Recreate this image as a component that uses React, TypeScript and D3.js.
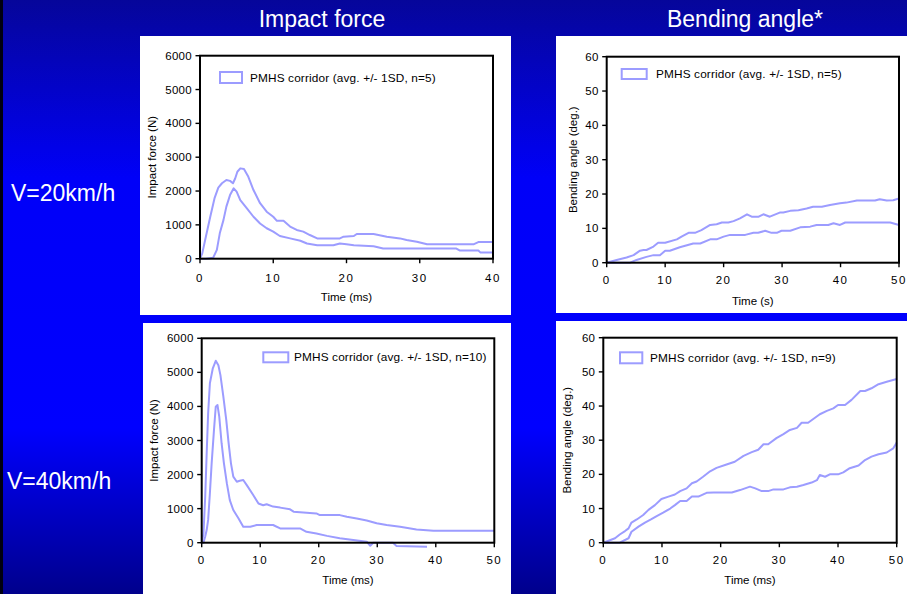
import React from 'react';
import * as d3 from 'd3';

const W = 907;
const H = 594;
const LINE = '#9c9cff';
const FONT = '"Liberation Sans", Arial, Helvetica, sans-serif';

const headers = ['Impact force', 'Bending angle*'];
const rowLabels = ['V=20km/h', 'V=40km/h'];

const forceTicks20 = [0, 10, 20, 30, 40];
const timeTicks50 = [0, 10, 20, 30, 40, 50];
const forceTicks = [0, 1000, 2000, 3000, 4000, 5000, 6000];
const angleTicks = [0, 10, 20, 30, 40, 50, 60];

const legend20Force = 'PMHS corridor (avg. +/- 1SD, n=5)';
const legend20Angle = 'PMHS corridor (avg. +/- 1SD, n=5)';
const legend40Force = 'PMHS corridor (avg. +/- 1SD, n=10)';
const legend40Angle = 'PMHS corridor (avg. +/- 1SD, n=9)';

// V=20km/h impact force (N) vs time (ms)
const force20Upper: [number, number][] = [
  [0, 0], [0.3, 150], [0.8, 650], [1.4, 1240], [2, 1800], [2.5, 2100], [3, 2230], [3.6, 2325],
  [4.1, 2300], [4.5, 2230], [4.8, 2370], [5.1, 2570], [5.5, 2670], [6, 2650], [6.6, 2420],
  [7.3, 2030], [8.2, 1640], [9.1, 1390], [10, 1240], [10.5, 1120], [11.4, 1120], [12.3, 950],
  [13.2, 850], [14.1, 800], [15, 700], [16, 600], [19.1, 600], [19.6, 650], [21, 670],
  [21.4, 730], [23.7, 730], [25.5, 650], [27.3, 600], [28.2, 550], [29.6, 500], [31, 430],
  [37.4, 430], [38, 490], [40, 490],
];
const force20Lower: [number, number][] = [
  [0, 0], [0.8, 0], [1.8, 30], [2.3, 260], [2.7, 750], [3.2, 1140], [3.6, 1540], [4.1, 1880],
  [4.6, 2080], [5, 1980], [5.5, 1730], [6.4, 1490], [7.3, 1240], [8.2, 1040], [9.1, 900],
  [10, 800], [10.9, 670], [12.3, 600], [13.7, 530], [14.6, 450], [16, 400], [18.2, 400],
  [19.1, 450], [20, 430], [21, 400], [23.7, 370], [25, 300], [35, 300], [35.5, 240], [38, 240],
  [38.3, 180], [40, 180],
];

// V=20km/h bending angle (deg.) vs time (s)
const angle20Upper: [number, number][] = [
  [0, 0], [1.7, 0.8], [3.4, 1.5], [4.6, 2.2], [5.7, 3.5], [6.3, 3.7], [6.8, 3.7], [8, 4.7],
  [8.8, 5.8], [10, 5.8], [12, 6.8], [12.8, 7.6], [14, 8.7], [15.1, 8.7], [16.2, 9.5], [17.7, 11],
  [18.8, 11.2], [19.7, 11.7], [20.8, 11.7], [21.7, 12.1], [22.8, 12.9], [24, 14.1], [24.8, 13.4],
  [26, 13.4], [26.8, 14.1], [27.9, 13.4], [29.6, 14.6], [30.2, 14.6], [31.4, 15.1], [32.8, 15.3],
  [34.2, 15.8], [35.3, 16.3], [36.8, 16.3], [38.2, 16.8], [39.9, 17.3], [41, 17.5], [42.8, 18.1],
  [45.9, 18.1], [46.7, 18.5], [47.9, 18.1], [49, 18.2], [50, 18.7],
];
const angle20Lower: [number, number][] = [
  [0, 0], [4, 0], [5.1, 0.8], [6.8, 1.7], [8, 2.2], [9.1, 2.2], [10, 3.5], [10.8, 3.5],
  [12.5, 4.5], [14.8, 5.6], [16, 5.6], [17.7, 6.8], [18.8, 6.8], [20, 7.6], [21.1, 8.1],
  [23.7, 8.1], [25.1, 8.7], [25.9, 8.7], [27.1, 9.3], [28.2, 8.7], [29.1, 8.7], [29.9, 9.3],
  [31.4, 9.3], [33.1, 10.3], [34.8, 10.5], [35.9, 11], [37.9, 11], [38.8, 11.5], [39.9, 11],
  [40.8, 11.7], [48.5, 11.7], [50, 11],
];

// V=40km/h impact force (N) vs time (ms)
const force40Upper: [number, number][] = [
  [0, 0], [0.3, 270], [0.6, 1350], [0.85, 2620], [1.1, 3800], [1.4, 4680], [1.9, 5120],
  [2.4, 5340], [2.85, 5210], [3.2, 4920], [3.7, 4290], [4.2, 3600], [4.6, 2920], [5, 2330],
  [5.4, 1940], [6, 1790], [6.5, 1820], [7.1, 1840], [7.7, 1690], [8.8, 1400], [9.7, 1150],
  [10.5, 1100], [11.1, 1130], [12.2, 1060], [13.4, 1030], [15.1, 980], [15.7, 910], [19.6, 860],
  [20.2, 810], [23.6, 810], [24.8, 760], [26.5, 710], [28.2, 650], [29.9, 570], [31.6, 520],
  [33.9, 470], [36.7, 390], [39.6, 350], [50, 350],
];
const force40Lower: [number, number][] = [
  [0, 0], [0.3, 0], [0.6, 180], [0.85, 370], [1.1, 670], [1.4, 1450], [1.7, 2330], [2.1, 3310],
  [2.4, 3990], [2.7, 4040], [3, 3700], [3.4, 2920], [3.8, 2330], [4.3, 1740], [4.8, 1250],
  [5.4, 960], [6.3, 710], [7.1, 470], [8.3, 470], [9.4, 520], [12.2, 520], [13.4, 420],
  [16.8, 420], [17.9, 320], [19.6, 270], [21.4, 200], [23.6, 130], [25.9, 80], [28.2, 30],
  [28.8, -90], [29.3, 0], [32.7, 0], [33.3, -100], [38.5, -120],
];

// V=40km/h bending angle (deg.) vs time (ms)
const angle40Upper: [number, number][] = [
  [0, 0], [2, 1.3], [2.8, 2.4], [3.7, 3.4], [4.3, 4.2], [4.8, 5.9], [5.7, 6.8], [6.8, 8.1],
  [7.7, 9.6], [8.8, 11], [9.9, 12.8], [11.1, 13.5], [12.2, 14.1], [13.1, 15.1], [14.2, 15.9],
  [15.1, 17.4], [15.9, 17.9], [17, 19.3], [18.2, 20.9], [19.3, 21.9], [21, 22.9], [22.4, 23.7],
  [23.9, 25.4], [25.3, 26.5], [26.4, 27.2], [27.3, 28.8], [28.1, 28.8], [29.5, 30.6],
  [30.7, 31.8], [31.8, 33], [33, 33.6], [33.8, 35.1], [34.9, 35.1], [36.9, 37.6], [38.1, 38.6],
  [39.2, 39.3], [40, 40.3], [41.2, 40.3], [42.3, 41.8], [43.8, 44.4], [44.6, 44.4], [45.7, 45.2],
  [46.9, 46.4], [48.3, 47.1], [50, 47.9],
];
const angle40Lower: [number, number][] = [
  [0, 0], [1.1, 0], [2.8, 0], [4.3, 1.3], [4.8, 3.2], [6, 4.7], [7.1, 5.9], [8.2, 6.9], [9.1, 7.8],
  [10.2, 8.8], [11.4, 10], [12.2, 11], [13.1, 12.2], [14.2, 12.2], [15.1, 13.5], [16.2, 13.5],
  [17.6, 14.6], [18.8, 14.7], [21.9, 14.7], [23.3, 15.4], [25, 16.4], [25.9, 15.9], [27, 15.1],
  [28.1, 15.1], [29, 15.6], [30.7, 15.6], [31.8, 16.2], [33, 16.4], [34.1, 16.9], [35.5, 17.6],
  [36.4, 18.3], [36.9, 19.8], [37.8, 19.3], [38.6, 20], [40, 20], [40.9, 20.6], [42, 21.8],
  [43.5, 22.6], [44.6, 24.2], [45.7, 25.2], [46.9, 25.9], [48.3, 26.4], [49.4, 27.6], [50, 29.3],
];

type Spec = {
  panel: [number, number, number, number];
  plot: [number, number, number, number];
  xDomain: [number, number];
  yDomain: [number, number];
  xTicks: number[];
  yTicks: number[];
  xTitle: string;
  yTitle: string;
  yTitleX: number;
  xLabelY: number;
  xTitleY: number;
  legend: string;
  legendRect: [number, number, number, number];
  legendTextX: number;
  series: [number, number][][];
};

const specs: Spec[] = [
  {
    panel: [140, 36, 511, 315],
    plot: [200, 55.7, 493, 258.7],
    xDomain: [0, 40], yDomain: [0, 6000],
    xTicks: forceTicks20, yTicks: forceTicks,
    xTitle: 'Time (ms)', yTitle: 'Impact force (N)', yTitleX: 152,
    xLabelY: 278, xTitleY: 297,
    legend: legend20Force, legendRect: [220, 72, 242, 83], legendTextX: 250,
    series: [force20Upper, force20Lower],
  },
  {
    panel: [556, 36, 907, 313],
    plot: [606.7, 56.7, 899, 262.7],
    xDomain: [0, 50], yDomain: [0, 60],
    xTicks: timeTicks50, yTicks: angleTicks,
    xTitle: 'Time (s)', yTitle: 'Bending angle (deg.)', yTitleX: 572.7,
    xLabelY: 280, xTitleY: 300.7,
    legend: legend20Angle, legendRect: [621.7, 69, 646.7, 79], legendTextX: 656,
    series: [angle20Upper, angle20Lower],
  },
  {
    panel: [143, 323, 511, 594],
    plot: [201.7, 338.3, 494.3, 542.7],
    xDomain: [0, 50], yDomain: [0, 6000],
    xTicks: timeTicks50, yTicks: forceTicks,
    xTitle: 'Time (ms)', yTitle: 'Impact force (N)', yTitleX: 154,
    xLabelY: 560, xTitleY: 580,
    legend: legend40Force, legendRect: [263.3, 352.3, 288.3, 362.3], legendTextX: 294,
    series: [force40Upper, force40Lower],
  },
  {
    panel: [556, 321, 907, 594],
    plot: [603.3, 337.7, 896.7, 542.7],
    xDomain: [0, 50], yDomain: [0, 60],
    xTicks: timeTicks50, yTicks: angleTicks,
    xTitle: 'Time (ms)', yTitle: 'Bending angle (deg.)', yTitleX: 566.7,
    xLabelY: 560, xTitleY: 580,
    legend: legend40Angle, legendRect: [620, 352.3, 642.3, 363.3], legendTextX: 650,
    series: [angle40Upper, angle40Lower],
  },
];

const FS = 11.5;
const LFS = 11.8;

function Chart({ s }: { s: Spec }) {
  const [px0, py0, px1, py1] = s.plot;
  const x = d3.scaleLinear().domain(s.xDomain).range([px0, px1]);
  const y = d3.scaleLinear().domain(s.yDomain).range([py1, py0]);
  const line = d3.line<[number, number]>().x((d) => x(d[0])).y((d) => y(d[1]));
  const [lx0, ly0, lx1, ly1] = s.legendRect;
  const midY = (py0 + py1) / 2;
  return (
    <g>
      <rect x={s.panel[0]} y={s.panel[1]} width={s.panel[2] - s.panel[0]} height={s.panel[3] - s.panel[1]} fill="#ffffff" />
      {s.series.map((d, i) => (
        <path key={i} d={line(d) || ''} fill="none" stroke={LINE} strokeWidth={2} strokeLinejoin="round" />
      ))}
      <rect x={px0} y={py0} width={px1 - px0} height={py1 - py0} fill="none" stroke="#000" strokeWidth={2} />
      {s.yTicks.map((t) => (
        <g key={'y' + t}>
          <line x1={px0 - 4.5} x2={px0} y1={y(t)} y2={y(t)} stroke="#000" strokeWidth={1.4} />
          <text x={px0 - 8} y={y(t) + FS * 0.35} textAnchor="end" fontSize={FS} fontFamily={FONT} fill="#000" letterSpacing={0.3}>{t}</text>
        </g>
      ))}
      {s.xTicks.map((t) => (
        <g key={'x' + t}>
          <line x1={x(t)} x2={x(t)} y1={py1} y2={py1 + 4.5} stroke="#000" strokeWidth={1.4} />
          <text x={x(t)} y={s.xLabelY + FS * 0.35} textAnchor="middle" fontSize={FS} fontFamily={FONT} fill="#000" letterSpacing={1.5}>{t}</text>
        </g>
      ))}
      <text x={(px0 + px1) / 2} y={s.xTitleY + FS * 0.35} textAnchor="middle" fontSize={FS} fontFamily={FONT} fill="#000">{s.xTitle}</text>
      <text transform={`translate(${s.yTitleX},${midY}) rotate(-90)`} y={FS * 0.35} textAnchor="middle" fontSize={FS} fontFamily={FONT} fill="#000">{s.yTitle}</text>
      <rect x={lx0} y={ly0} width={lx1 - lx0} height={ly1 - ly0} fill="none" stroke={LINE} strokeWidth={2} />
      <text x={s.legendTextX} y={(ly0 + ly1) / 2 + LFS * 0.35} fontSize={LFS} fontFamily={FONT} fill="#000" letterSpacing={0.15}>{s.legend}</text>
    </g>
  );
}

export default function App() {
  return (
    <svg width={W} height={H} style={{ position: 'absolute', left: 0, top: 0 }}>
      <defs>
        <linearGradient id="bg" x1="0" y1="0" x2="0" y2="1">
          <stop offset="0" stopColor="#06069a" />
          <stop offset="0.3" stopColor="#0000f8" />
          <stop offset="0.72" stopColor="#0000ff" />
          <stop offset="1" stopColor="#00008c" />
        </linearGradient>
      </defs>
      <rect x={0} y={0} width={W} height={H} fill="url(#bg)" />
      <rect x={0} y={0} width={3} height={H} fill="#000010" />
      <text x={322} y={27} textAnchor="middle" fontSize={23} fontFamily={FONT} fill="#fff">{headers[0]}</text>
      <text x={745} y={27} textAnchor="middle" fontSize={23} fontFamily={FONT} fill="#fff">{headers[1]}</text>
      <text x={11} y={201} fontSize={23} fontFamily={FONT} fill="#fff">{rowLabels[0]}</text>
      <text x={7} y={489} fontSize={23} fontFamily={FONT} fill="#fff">{rowLabels[1]}</text>
      {specs.map((s, i) => (
        <Chart key={i} s={s} />
      ))}
    </svg>
  );
}
